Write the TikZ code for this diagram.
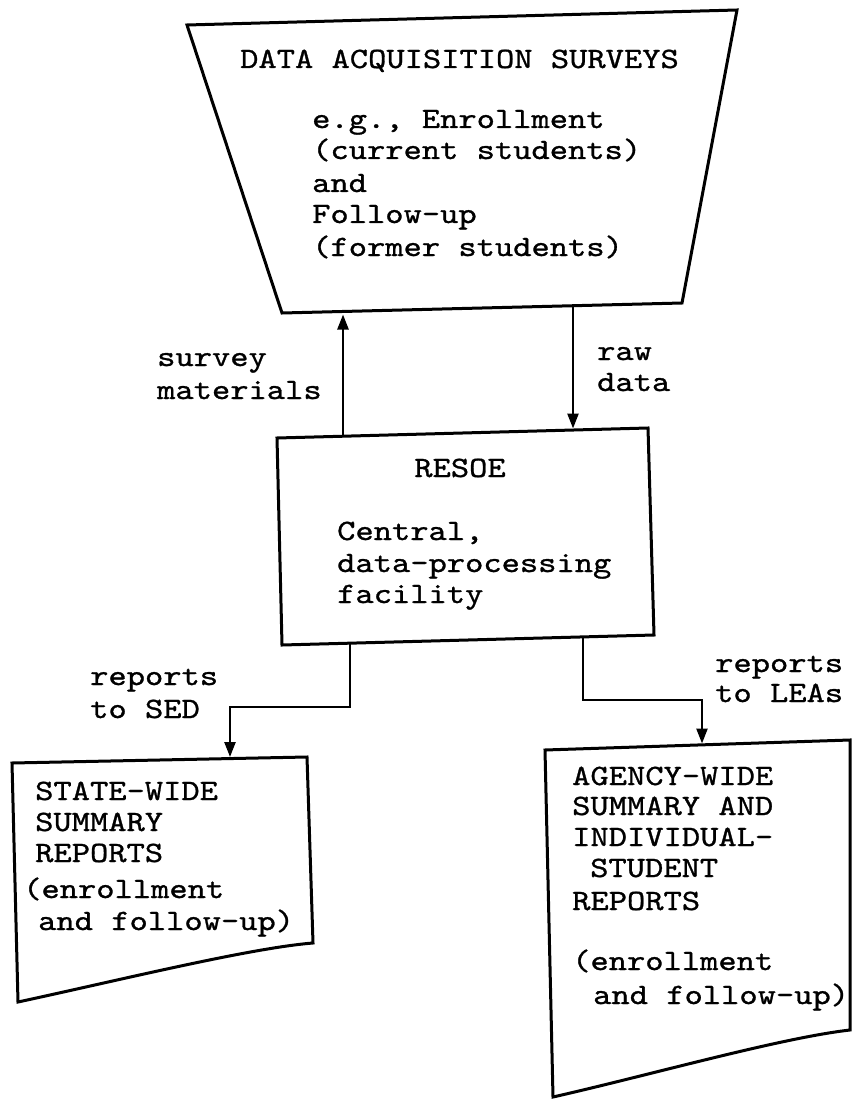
\documentclass[tikz,border=0pt]{standalone}
\usepackage{fontspec}
\newfontfamily\tw{lmmono10-regular.otf}[FakeStretch=1.18,FakeBold=1]
\usetikzlibrary{arrows.meta}
\begin{document}
\begin{tikzpicture}[x=1pt,y=-1pt,
  outline/.style={line width=3pt, line join=miter},
  conn/.style={line width=2.4pt, -{Triangle[length=15pt,width=11pt]}},
  lbl/.style={anchor=base west, inner sep=0pt, font=\tw\fontsize{29.5}{32}\selectfont},
  lblc/.style={anchor=base, inner sep=0pt, font=\tw\fontsize{29.5}{32}\selectfont}]
\useasboundingbox (0,0) rectangle (852,1099);
% ---------- shapes ----------
% top trapezoid
\coordinate (tTL) at (187,25);
\coordinate (tTR) at (737,10);
\coordinate (tBR) at (682,303);
\coordinate (tBL) at (282,313);
\draw[outline] (tTL) -- (tTR) -- (tBR) -- (tBL) -- cycle;
% RESOE box
\coordinate (bTL) at (277,438);
\coordinate (bTR) at (648,428);
\coordinate (bBR) at (654,635);
\coordinate (bBL) at (282,645);
\draw[outline] (bTL) -- (bTR) -- (bBR) -- (bBL) -- cycle;
% left document
\coordinate (lTL) at (12,763);
\coordinate (lTR) at (307,757);
\coordinate (lBR) at (313,943);
\coordinate (lBL) at (18,1002);
\draw[outline] (lTL) -- (lTR) -- (lBR) .. controls (250,948) and (120,980) .. (lBL) -- cycle;
% right document
\coordinate (rTL) at (545,750);
\coordinate (rTR) at (850,740);
\coordinate (rBR) at (850,1030);
\coordinate (rBL) at (553,1097);
\draw[outline] (rTL) -- (rTR) -- (rBR) .. controls (780,1038) and (650,1075) .. (rBL) -- cycle;
% ---------- connectors ----------
\coordinate (sFrom) at (343,436);
\coordinate (sTo) at (343,314.5);
\draw[conn] (sFrom) -- (sTo);
\coordinate (rFrom) at (573,307);
\coordinate (rTo) at (573,428.5);
\draw[conn] (rFrom) -- (rTo);
\coordinate (lFrom) at (350,644);
\coordinate (lTo) at (230,757);
\draw[conn] (lFrom) -- (350,707) -| (lTo);
\coordinate (qFrom) at (583,637);
\coordinate (qTo) at (702,743.5);
\draw[conn] (qFrom) -- (583,700) -| (qTo);
% ---------- texts ----------
\node[lbl] (t1) at (240,68) {DATA ACQUISITION SURVEYS};
\node[lbl] (t2) at (312,128) {e.g., Enrollment};
\node[lbl] (t3) at (312,159) {(current students)};
\node[lbl] (t4) at (312,192) {and};
\node[lbl] (t5) at (312,223) {Follow-up};
\node[lbl] (t6) at (312,256) {(former students)};
\node[lbl] (s1) at (157,366) {survey};
\node[lbl] (s2) at (157,399) {materials};
\node[lbl] (r1) at (597,360) {raw};
\node[lbl] (r2) at (597,391) {data};
\node[lblc] (c0) at (460,477) {RESOE};
\node[lbl] (c1) at (337,540) {Central,};
\node[lbl] (c2) at (337,572) {data-processing};
\node[lbl] (c3) at (337,603) {facility};
\node[lbl] (p1) at (90,685) {reports};
\node[lbl] (p2) at (90,718) {to SED};
\node[lbl] (q1) at (715,672) {reports};
\node[lbl] (q2) at (715,702) {to LEAs};
\node[lbl] (d1) at (35,800) {STATE-WIDE};
\node[lbl] (d2) at (35,831) {SUMMARY};
\node[lbl] (d3) at (35,862) {REPORTS};
\node[lbl] (d4) at (23,898) {(enrollment};
\node[lbl] (d5) at (38,930) {and follow-up)};
\node[lbl] (e1) at (572,785) {AGENCY-WIDE};
\node[lbl] (e2) at (572,815) {SUMMARY AND};
\node[lbl] (e3) at (572,846) {INDIVIDUAL-};
\node[lbl] (e4) at (590,877) {STUDENT};
\node[lbl] (e5) at (572,910) {REPORTS};
\node[lbl] (e6) at (572,970) {(enrollment};
\node[lbl] (e7) at (593,1004) {and follow-up)};
\end{tikzpicture}
\end{document}
